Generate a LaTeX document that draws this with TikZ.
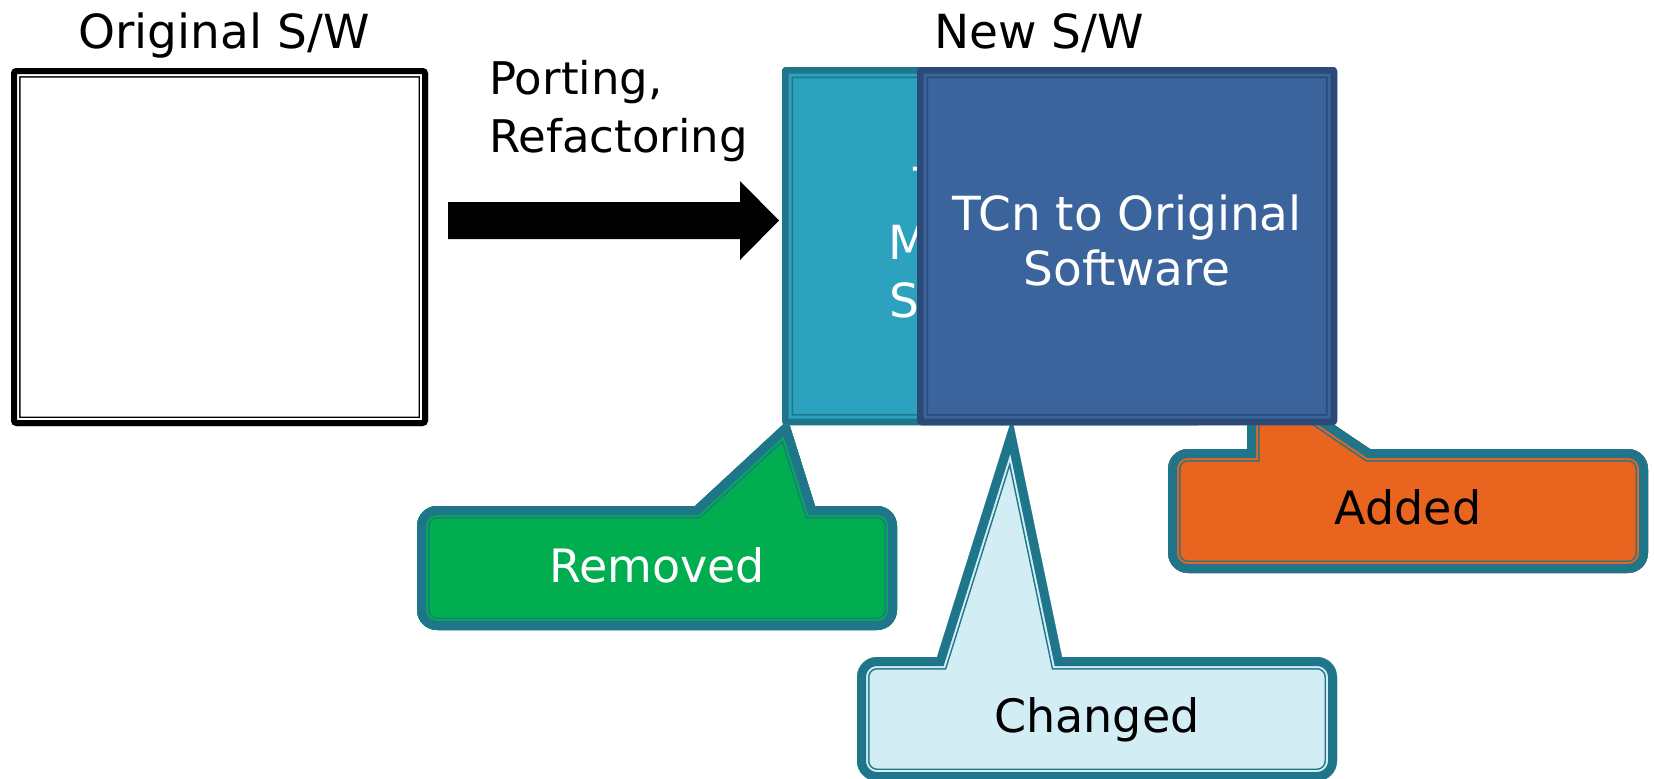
\documentclass[tikz,border=0pt]{standalone}
\usepackage{fontspec}
\setmainfont{DejaVu Sans}
\usetikzlibrary{calc}

\definecolor{frameline}{HTML}{1F768A}
\definecolor{tealfill}{HTML}{2CA2BF}
\definecolor{bluefill}{HTML}{3B649D}
\definecolor{blueline}{HTML}{2B4A78}
\definecolor{removedfill}{HTML}{00AE4F}
\definecolor{changedfill}{HTML}{D3EDF5}
\definecolor{addedfill}{HTML}{E8641F}

% rounded rectangle: left, top, right, bottom, corner radius
\newcommand\rrpath[5]{({#1+#5},#2) -- ({#3-#5},#2)
  .. controls ({#3-0.448*#5},#2) and (#3,{#2+0.448*#5}) .. (#3,{#2+#5}) -- (#3,{#4-#5})
  .. controls (#3,{#4-0.448*#5}) and ({#3-0.448*#5},#4) .. ({#3-#5},#4) -- ({#1+#5},#4)
  .. controls ({#1+0.448*#5},#4) and (#1,{#4-0.448*#5}) .. (#1,{#4-#5}) -- (#1,{#2+#5})
  .. controls (#1,{#2+0.448*#5}) and ({#1+0.448*#5},#2) .. ({#1+#5},#2) -- cycle}

% rounded rectangle (radius 20) with a wedge on its top edge:
% left, top, right, bottom, wedge base left x, wedge base right x, tip x, tip y
\newcommand\calloutpath[8]{({#1+20},#2) -- (#5,#2) -- (#7,#8) -- (#6,#2) -- ({#3-20},#2)
  .. controls ({#3-9},#2) and (#3,{#2+9}) .. (#3,{#2+20}) -- (#3,{#4-20})
  .. controls (#3,{#4-9}) and ({#3-9},#4) .. ({#3-20},#4) -- ({#1+20},#4)
  .. controls ({#1+9},#4) and (#1,{#4-9}) .. (#1,{#4-20}) -- (#1,{#2+20})
  .. controls (#1,{#2+9}) and ({#1+9},#2) .. ({#1+20},#2) -- cycle}

% filled shape with a thick-thin double outline lying inside the path
% #1 path, #2 fill, #3 line colour, #4 total band, #5 inner end of gap, #6 thick band
\newcommand\dblframe[6]{%
  \fill[#2] #1;
  \begin{scope}
    \clip #1;
    \draw[#3,line width=#4] #1;
    \draw[#2,line width=#5] #1;
    \draw[#3,line width=#6] #1;
  \end{scope}}

\tikzset{
  title/.style={inner sep=0pt, anchor=base, font=\fontsize{23.5pt}{28pt}\selectfont},
  sidelbl/.style={inner sep=0pt, anchor=base west, font=\fontsize{22.5pt}{28pt}\selectfont},
  boxtxt/.style={inner sep=0pt, anchor=base, text=white, font=\fontsize{23.5pt}{28pt}\selectfont},
  calltxt/.style={inner sep=0pt, anchor=base, font=\fontsize{23pt}{28pt}\selectfont}
}

\begin{document}
\begin{tikzpicture}[x=0.5pt,y=-0.5pt]
\fill[white] (0,0) rectangle (1654,778);
\useasboundingbox (0,0) rectangle (1654,778);
\clip (0,0) rectangle (1654,778);

% headings
\node[title] (origTitle) at (224,48) {Original S/W};
\node[title] (newTitle) at (1039,48) {New S/W};

% original software
\dblframe{\rrpath{11}{68}{428}{426}{5}}{white}{black}{9.5pt}{8pt}{6pt}

% porting arrow
\node[sidelbl] (port1) at (489,94) {Porting,};
\node[sidelbl] (port2) at (489,152) {Refactoring};
\coordinate (arrS) at (448,220.5);
\coordinate (arrE) at (779,220.5);
\fill[black] (arrS) ++(0,-18.5) -- ++(292,0) -- ++(0,-21) -- (arrE)
  -- ++(-39,39.5) -- ++(0,-21) -- ++(-292,0) -- cycle;

% callouts, under the boxes they point at
\dblframe{\calloutpath{417}{506}{897}{630}{695}{815}{788}{420}}{removedfill}{frameline}{12.5pt}{11pt}{9pt}
\dblframe{\calloutpath{1168}{449}{1648}{573}{1247}{1370}{1247}{366}}{addedfill}{frameline}{12.5pt}{11pt}{9pt}
\dblframe{\calloutpath{857}{657}{1337}{781}{937}{1062}{1012}{418}}{changedfill}{frameline}{12.5pt}{11pt}{9pt}
\node[calltxt, text=white] (removedTxt) at (657,582) {Removed};
\node[calltxt] (addedTxt) at (1408,524) {Added};
\node[calltxt] (changedTxt) at (1097,732) {Changed};

% new software: modified test cases behind (only the line starts show) ...
\dblframe{\rrpath{782}{67}{1202}{425}{4}}{tealfill}{frameline}{11pt}{9.5pt}{6.5pt}
\node[boxtxt, anchor=base west] (tealL1) at (913,201) {T};
\node[boxtxt, anchor=base west] (tealL2) at (888,259) {M};
\node[boxtxt, anchor=base west] (tealL3) at (889,317) {S};

% ... and original test cases in front
\dblframe{\rrpath{917}{67}{1337}{425}{4}}{bluefill}{blueline}{11pt}{9.5pt}{6.5pt}
\node[boxtxt] (blueL1) at (1127,230) {TCn to Original};
\node[boxtxt] (blueL2) at (1127,285) {Software};
\end{tikzpicture}
\end{document}
